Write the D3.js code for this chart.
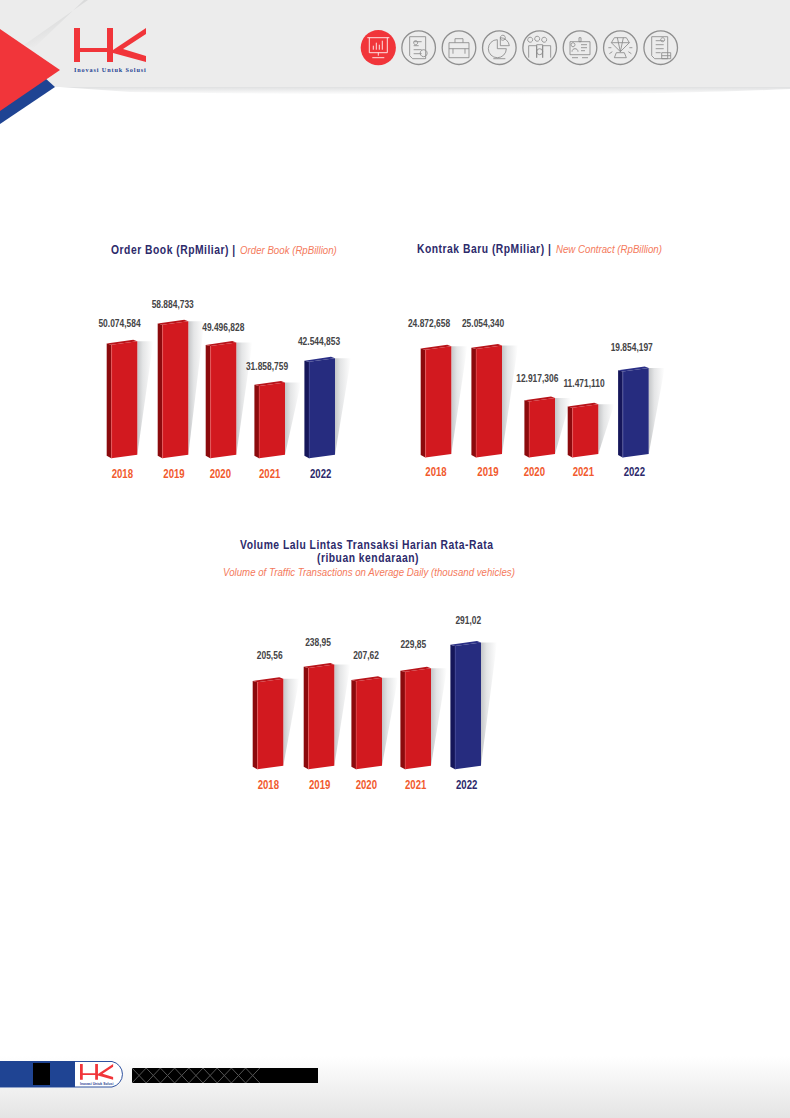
<!DOCTYPE html>
<html><head><meta charset="utf-8">
<script src="https://cdn.jsdelivr.net/npm/d3@7/dist/d3.min.js"></script>
<style>
html,body{margin:0;padding:0;background:#fff}
svg{display:block}
text{font-family:"Liberation Sans",sans-serif}
</style></head><body><div id="c"></div>
<script>
// ---- data ----
const years = ["2018","2019","2020","2021","2022"];
const orderBook = [50074.584,58884.733,49496.828,31858.759,42544.853];
const newContract = [24872.658,25054.340,12917.306,11471.110,19854.197];
const traffic = [205.56,238.95,207.62,229.85,291.02];
const iconNames = ["chart","doc","case","pie","team","card","gem","report"];

// ---- layout, kept apart from the values ----
const id = d3.formatLocale({decimal:",",thousands:".",grouping:[3],currency:["",""]});
const RED={front:"#d2191f",side:"#8c0a0d",top:"#b8141a",edge:"#e8686a"};
const NAVY={front:"#262c7f",side:"#15165a",top:"#2a2f86",edge:"#5a5fa8"};
const W=790,H=1118;
const svg=d3.select("#c").append("svg").attr("width",W).attr("height",H).attr("viewBox",`0 0 ${W} ${H}`);
const defs=svg.append("defs");
function lin(id,x2,y2,stops){const g=defs.append("linearGradient").attr("id",id).attr("x1",0).attr("y1",0).attr("x2",x2).attr("y2",y2);
 stops.forEach(s=>g.append("stop").attr("offset",s[0]).attr("stop-color",s[1]));}
lin("shadow",1,0,[[0,"#c4c6c8"],[0.35,"#e4e5e6"],[1,"#ffffff"]]);
lin("hdrShade",0,1,[[0,"#dfe0e1"],[1,"#ffffff"]]);
lin("foot",0,1,[[0,"#ffffff"],[1,"#e4e4e4"]]);
lin("stripe",0.5,0.8,[[0,"#c4c5c6"],[1,"#ececec"]]);

// condensed text: the installed families have no narrow cut, so it is squeezed
function cText(sel,x,y,k){return sel.attr("transform",`translate(${x},${y}) scale(${k},1)`);}

// ---- page header ----
const hdr=svg.append("g");
hdr.append("rect").attr("width",W).attr("height",87).attr("fill","#ececec");
hdr.append("path").attr("d","M60 87L790 87L790 89C640 96 420 96 130 92Z").attr("fill","url(#hdrShade)");
hdr.append("path").attr("d","M84 0L88 0L24 45L34 48Z").attr("fill","url(#stripe)");
hdr.append("path").attr("d","M0 124L55 87L45 78L0 100Z").attr("fill","#1f4493");
hdr.append("path").attr("d","M0 29L60 70L0 111Z").attr("fill","#f1353a");
function logo(g,k,x,y,text){
 const l=g.append("g").attr("transform",`translate(${x},${y}) scale(${k})`);
 l.append("path").attr("fill","#f1353a").attr("d","M0 0H6V20H33V0H39V22L72 0V6L49 21L72 28V34L39 25V34H33V24H6V34H0Z");
 if(text) l.append("text").attr("x",0).attr("y",44).attr("font-size",6.2).attr("font-weight",700).attr("letter-spacing",.88).attr("fill","#1f4493").style("font-family","Liberation Serif").text("Inovasi Untuk Solusi");
}
logo(hdr,1,74,28,true);

// nav icons
const navX=d3.scalePoint().domain(iconNames).range([378.3,660.7]);
const glyph={
 chart:"M-11-10H11M-9-10V5H9V-10M-5 2V-2M-2 2V-5M1 2V-3M4 2V-7M0 5V8M-6 10H6",
 doc:"M-9-11H7V11H-6L-9 8ZM-5-6H3M-5-2H0M-5 2H3M-5 6H3M5 2A3.5 3.5 0 1 0 5.01 2M-1-5A2 2 0 1 0-1-4.99",
 case:"M-10-5H10V10H-10ZM-4-5V-9H4V-5M-10 1H10M-6 1V6M6 1V6",
 pie:"M-2-8A9 9 0 1 0 7 1H-2ZM1-10A9 9 0 0 1 10-2H1ZM6-10A2.5 2.5 0 1 0 6-9.9M-6 11H6",
 team:"M-7-8A2.5 2.5 0 1 0-7-7.9M0-9A2.5 2.5 0 1 0 0-8.9M7-8A2.5 2.5 0 1 0 7-7.9M-11 10V-2H-3V10M-3 10V-3H3V10M3 10V-2H11V10M-3 4A3 3 0 1 0 3 4A3 3 0 1 0-3 4",
 card:"M-10-6H10V7H-10ZM-5-3A2 2 0 1 0-5-2.9M-8 4C-8 0-2 0-2 4M1-3H7M1 0H7M1 3H5M-8 10H-2M2 10H8M-1-10H1V-6H-1Z",
 gem:"M-6-10H6L9-5L0 4L-9-5ZM-9-5H9M-3-10L0 4L3-10M-6 10H6L4 5H-4ZM-12 0H-9M9 0H12M-11 6L-8 4M8 4L11 6",
 report:"M-9-11H7V11H-6L-9 8ZM-5-7H3M-5-3H3M-5 1H3M-5 5H0M1 5H10V11H1ZM1 8H10M4-8A2 2 0 1 0 4-7.9"
};
const nav=hdr.selectAll("g.nav").data(iconNames).join("g").attr("class","nav").attr("transform",d=>`translate(${navX(d)},47.7)`);
nav.append("circle").attr("r",d=>d==="chart"?17.6:16.8).attr("fill",d=>d==="chart"?"#f1353a":"none").attr("stroke",d=>d==="chart"?"none":"#8f8f8f").attr("stroke-width",1.3);
nav.append("path").attr("d",d=>glyph[d]).attr("fill","none").attr("stroke",d=>d==="chart"?"#fff":"#8a8a8a").attr("stroke-width",.85);

// ---- charts ----
function bars(cfg){
 const g=svg.append("g");
 const x=d3.scaleOrdinal().domain(years).range(cfg.xs);
 const y=d3.scaleLinear().domain([0,d3.max(cfg.values)]).range([cfg.base,cfg.base-cfg.maxH]);
 const fmt=id.format(cfg.fmt), bw=26, rise=3.5, dep=4.6;
 const rows=years.map((yr,i)=>({yr,v:cfg.values[i],i,x:x(yr),t:y(cfg.values[i]),b:y(0),c:yr==="2022"?NAVY:RED}));
 const poly=pts=>d3.line()(pts)+"Z";
 const s=g.selectAll("g").data(rows).join("g");
 s.append("path").attr("fill","url(#shadow)").attr("d",d=>poly([[d.x+bw,d.t-rise],[d.x+bw+16,d.t-rise],[d.x+bw,d.b-rise]]));
 s.append("path").attr("fill",d=>d.c.side).attr("d",d=>poly([[d.x-dep,d.t-1.2],[d.x,d.t],[d.x,d.b],[d.x-dep,d.b-2.5]]));
 s.append("path").attr("fill",d=>d.c.top).attr("d",d=>poly([[d.x-dep,d.t-1.2],[d.x+bw-4,d.t-5],[d.x+bw,d.t-rise],[d.x,d.t]]));
 s.append("path").attr("fill",d=>d.c.front).attr("d",d=>poly([[d.x,d.t],[d.x+bw,d.t-rise],[d.x+bw,d.b-rise],[d.x,d.b]]));
 s.append("path").attr("stroke",d=>d.c.edge).attr("stroke-width",.6).attr("fill","none").attr("d",d=>d3.line()([[d.x+.3,d.t],[d.x+.3,d.b]]));
 s.append("text").each(function(d){cText(d3.select(this),cfg.labelX[d.i],cfg.labelY[d.i],.81);}).attr("text-anchor","middle")
  .attr("font-size",10.4).attr("font-weight",700).attr("fill","#444446").text(d=>fmt(d.v));
 s.append("text").each(function(d){cText(d3.select(this),cfg.yearX[d.i],cfg.yearY,.8);}).attr("text-anchor","middle")
  .attr("font-size",12).attr("font-weight",700).attr("fill",d=>d.yr==="2022"?"#2d2a6b":"#f15a2e").text(d=>d.yr);
}
bars({values:orderBook,fmt:",.3f",xs:[111.3,162.3,210.3,259,309],base:458.3,maxH:133.5,
 labelX:[119.5,172.7,223.3,267,319],labelY:[326.5,308,330.5,370,344.5],
 yearX:[122.3,174,220.3,269.7,320.7],yearY:478});
bars({values:newContract,fmt:",.3f",xs:[425.3,476,529,572.3,622.7],base:457.5,maxH:108.5,
 labelX:[429,483,537.3,584,631.7],labelY:[327,327,382,387,351],
 yearX:[436,488,534.3,583.3,634.3],yearY:476});
bars({values:traffic,fmt:",.2f",xs:[257.3,308.3,356,405,455],base:769.3,maxH:123.4,
 labelX:[269.7,318,366,413.3,468.3],labelY:[658.8,646,658.8,648,624],
 yearX:[268.3,319.7,366.3,415.7,466.7],yearY:789});

// ---- titles ----
const NV="#2d2a6b",OR="#f47a5c";
function head(x,y,s,anchor){return cText(svg.append("text"),x,y,.82).attr("text-anchor",anchor).attr("font-size",12.6).attr("font-weight",700).attr("letter-spacing",.62).attr("fill",NV).text(s);}
function sub(x,y,s,anchor){return cText(svg.append("text"),x,y,.85).attr("text-anchor",anchor).attr("font-size",11.4).attr("font-style","italic").attr("fill",OR).text(s);}
head(111,254,"Order Book (RpMiliar) |","start");
sub(240,254,"Order Book (RpBillion)","start");
head(417,253,"Kontrak Baru (RpMiliar) |","start");
sub(556,253,"New Contract (RpBillion)","start");
head(366.7,549,"Volume Lalu Lintas Transaksi Harian Rata-Rata","middle");
head(368,562,"(ribuan kendaraan)","middle");
sub(369,576,"Volume of Traffic Transactions on Average Daily (thousand vehicles)","middle");

// ---- page footer ----
const ft=svg.append("g");
ft.append("rect").attr("y",1056).attr("width",W).attr("height",62).attr("fill","url(#foot)");
ft.append("path").attr("d","M0 1061.5H112A13 13 0 0 1 112 1087H0Z").attr("fill","#fff").attr("stroke","#2f52a0").attr("stroke-width",1);
ft.append("rect").attr("y",1061).attr("width",75).attr("height",26).attr("fill","#1f4493");
ft.append("rect").attr("x",33).attr("y",1063).attr("width",17).attr("height",22).attr("fill","#000");
logo(ft,.46,80,1064,false);
ft.append("text").attr("x",80).attr("y",1084.5).attr("font-size",3.4).attr("fill","#1f4493").attr("font-weight",700).text("Inovasi Untuk Solusi");
ft.append("rect").attr("x",132).attr("y",1068).attr("width",186).attr("height",15).attr("fill","#000");
const lattice=d3.range(9).map(i=>`M${132+i*14.2} 1068L${146.2+i*14.2} 1083M${132+i*14.2} 1083L${146.2+i*14.2} 1068`).join("");
ft.append("path").attr("d",lattice).attr("stroke","#555").attr("stroke-width",1).attr("fill","none");
</script></body></html>
